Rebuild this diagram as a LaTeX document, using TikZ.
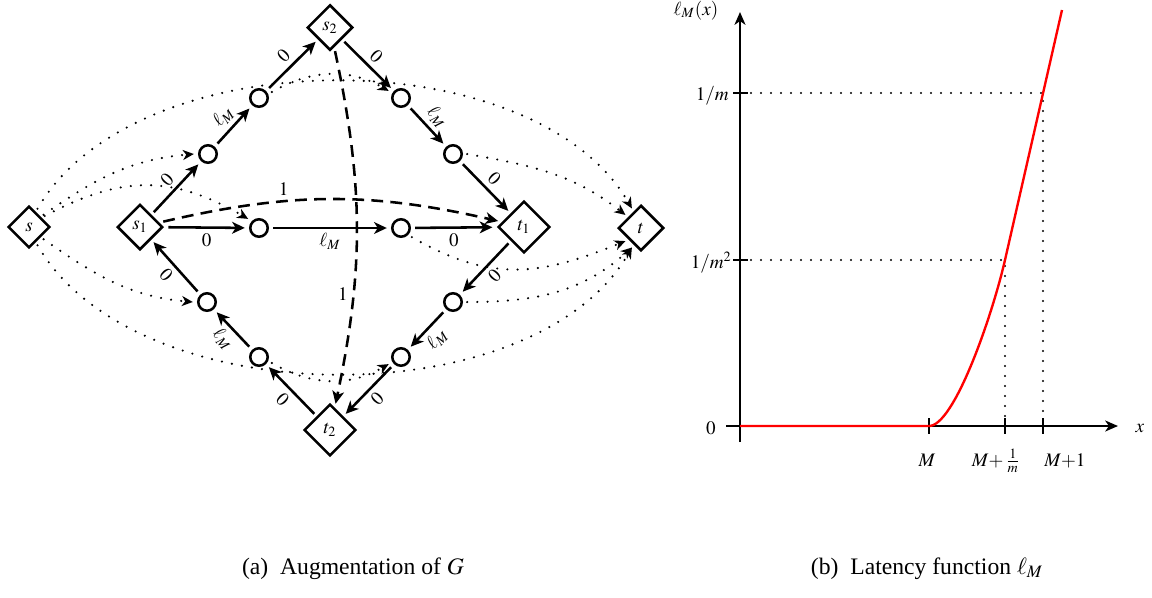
\documentclass[tikz,border=0pt]{standalone}
\usepackage{mathptmx}
\usepackage[no-math]{fontspec}
\setmainfont{Liberation Serif}
\usetikzlibrary{arrows.meta,shapes.geometric}
\begin{document}
\begin{tikzpicture}[x=0.55pt,y=-0.55pt,
  every node/.style={font=\fontsize{10.5}{12}\selectfont},
  dia/.style={draw,diamond,line width=1.4pt,inner sep=0pt,outer sep=2.5pt,aspect=1},
  circ/.style={draw,circle,line width=1.4pt,inner sep=0pt,minimum size=9.6pt,outer sep=3pt},
  sol/.style={line width=1.4pt,-{Stealth[length=7pt,width=6.5pt,inset=2pt]}},
  dsh/.style={line width=1.4pt,dash pattern=on 6.5pt off 4pt,-{Stealth[length=7pt,width=6.5pt,inset=2pt]}},
  dotln/.style={line width=1.3pt,dash pattern=on 0pt off 5.6pt,line cap=round,-{Stealth[length=6pt,width=5.5pt,inset=1.8pt]}},
  lab/.style={inner sep=2.5pt},
  axisln/.style={line width=1.3pt,-{Stealth[length=7pt,width=6pt,inset=2pt]}},
  tickln/.style={line width=1.1pt},
  pdot/.style={line width=1.2pt,dash pattern=on 0pt off 5.5pt,line cap=round},
  captext/.style={font=\fontsize{13}{15}\selectfont,anchor=base,inner sep=0pt},
]
\useasboundingbox (0,0) rectangle (1152,597);

% ---------- graph nodes ----------
\node[dia,minimum size=24.5pt] (s)  at (29,227)   {$s$};
\node[dia,minimum size=26.5pt] (s1) at (140,227)  {$s_1$};
\node[dia,minimum size=26.5pt] (s2) at (330,27.5) {$s_2$};
\node[dia,minimum size=30pt]   (t1) at (524,227)  {$t_1$};
\node[dia,minimum size=30pt]   (t2) at (330,430)  {$t_2$};
\node[dia,minimum size=26.5pt] (t)  at (641,228)  {$t$};

\node[circ] (A1) at (208,154) {};
\node[circ] (A2) at (259,98)  {};
\node[circ] (C1) at (401,98)  {};
\node[circ] (C2) at (453,154) {};
\node[circ] (M1) at (259,228) {};
\node[circ] (M2) at (401,228) {};
\node[circ] (B1) at (207,302) {};
\node[circ] (B2) at (259,357) {};
\node[circ] (D1) at (453,302) {};
\node[circ] (D2) at (401,357) {};

% ---------- solid edges ----------
\draw[sol] (s1) -- node[lab,sloped,above]{$0$} (A1);
\draw[sol] (A1) -- node[lab,sloped,above]{$\ell_M$} (A2);
\draw[sol] (A2) -- node[lab,sloped,above]{$0$} (s2);
\draw[sol] (s2) -- node[lab,sloped,above]{$0$} (C1);
\draw[sol] (C1) -- node[lab,sloped,above]{$\ell_M$} (C2);
\draw[sol] (C2) -- node[lab,sloped,above]{$0$} (t1);
\draw[sol] (s1) -- node[lab,below]{$0$} (M1);
\draw[sol] (M1) -- node[lab,below]{$\ell_M$} (M2);
\draw[sol] (M2) -- node[lab,below]{$0$} (t1);
\draw[sol] (t1) -- node[lab,sloped,below]{$0$} (D1);
\draw[sol] (D1) -- node[lab,sloped,below]{$\ell_M$} (D2);
\draw[sol] (D2) -- node[lab,sloped,below]{$0$} (t2);
\draw[sol] (t2) -- node[lab,sloped,below]{$0$} (B2);
\draw[sol] (B2) -- node[lab,sloped,below]{$\ell_M$} (B1);
\draw[sol] (B1) -- node[lab,sloped,below]{$0$} (s1);

% ---------- dashed edges ----------
\draw[dsh] (s1) to[bend left=13] node[lab,pos=0.35,above]{$1$} (t1);
\draw[dsh] (s2) to[bend left=12] node[lab,pos=0.7,left]{$1$} (t2);

% ---------- dotted edges ----------
\draw[dotln] (s.65)  to[out=60,in=120,distance=108pt] (t.115);
\draw[dotln] (s.40)  to[out=35,in=185] (A1.180);
\draw[dotln] (s.35)  to[out=28,in=150,looseness=1.1] (M1.140);
\draw[dotln] (A2.25) to[out=30,in=150] (C1.150);
\draw[dotln] (C2.0)  to[out=-10,in=142] (t.140);
\draw[dotln] (s.-65) to[out=-60,in=240,distance=108pt] (t.-115);
\draw[dotln] (s.-40) to[out=-35,in=175] (B1.180);
\draw[dotln] (B2.-25) to[out=-30,in=210] (D2.210);
\draw[dotln] (D1.0)  to[out=0,in=222] (t.-115);
\draw[dotln] (M2.-40) to[out=-30,in=202,looseness=1.1] (t.-140);

% ---------- plot ----------
\draw[axisln] (740,442) -- (740,12);
\draw[axisln] (726,426) -- (1118,426);
\draw[tickln] (733,93) -- (748,93);
\draw[tickln] (733,260) -- (748,260);
\draw[tickln] (929,418) -- (929,434);
\draw[tickln] (1005,418) -- (1005,434);
\draw[tickln] (1043,418) -- (1043,434);
\draw[pdot] (751,93) -- (1043,93) -- (1043,418);
\draw[pdot] (751,260) -- (1005,260) -- (1005,418);
\draw[red,line width=1.3pt] (740,426) -- (929,426) .. controls (954.3,426) and (992.3,315.3) .. (1005,260) -- (1062,10);

\node[anchor=base east,inner sep=0pt] (ly1) at (729,100) {$1/m$};
\node[anchor=base east,inner sep=0pt] (ly2) at (732,268) {$1/m^2$};
\node[anchor=base east,inner sep=0pt] (ly0) at (716,434) {$0$};
\node[anchor=base,inner sep=0pt] (lyl) at (696,15) {$\ell_M(x)$};
\node[anchor=base,inner sep=0pt] (lxx) at (1140,432) {$x$};
\node[anchor=base,inner sep=0pt] (lx1) at (927,466) {$M$};
\node[anchor=base,inner sep=0pt] (lx2) at (996,466) {$M{+}\,\frac{1}{m}$};
\node[anchor=base,inner sep=0pt] (lx3) at (1065,466) {$M{+}1$};

% ---------- captions ----------
\node[captext] (capa) at (353,574) {(a)\hspace{0.5em}Augmentation of $G$};
\node[captext] (capb) at (927,574) {(b)\hspace{0.5em}Latency function $\ell_M$};
\end{tikzpicture}
\end{document}
